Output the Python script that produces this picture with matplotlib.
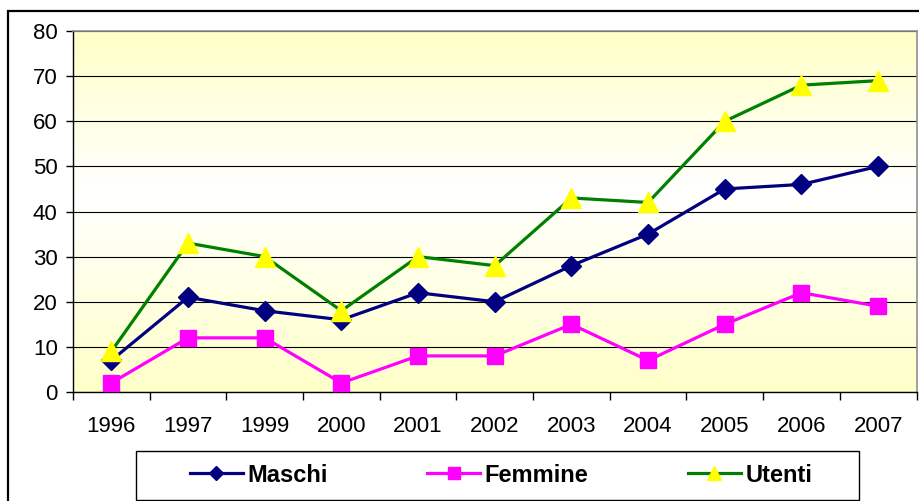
import matplotlib
matplotlib.use("Agg")
import matplotlib.pyplot as plt
import numpy as np
from matplotlib.colors import LinearSegmentedColormap
from matplotlib.patches import Rectangle

plt.rcParams["font.family"] = ["Liberation Sans", "DejaVu Sans"]

anni = ["1996", "1997", "1999", "2000", "2001", "2002", "2003", "2004", "2005", "2006", "2007"]
maschi = [7, 21, 18, 16, 22, 20, 28, 35, 45, 46, 50]
femmine = [2, 12, 12, 2, 8, 8, 15, 7, 15, 22, 19]
utenti = [9, 33, 30, 18, 30, 28, 43, 42, 60, 68, 69]

W, H = 919, 501
fig = plt.figure(figsize=(W / 100, H / 100), dpi=100)

# area del grafico (coordinate in pixel convertite in frazioni)
x0, x1, ytop, ybot = 73, 916.5, 31, 392
ax = fig.add_axes([x0 / W, 1 - ybot / H, (x1 - x0) / W, (ybot - ytop) / H])

# sfondo sfumato giallo-bianco-giallo
sfondo = LinearSegmentedColormap.from_list(
    "sfondo", [(0, "#FFFFC8"), (0.55, "#FFFFFF"), (1, "#FFFFC8")])
grad = np.linspace(0, 1, 256).reshape(-1, 1)
ax.imshow(grad, extent=[0, 1, 0, 1], transform=ax.transAxes, origin="lower",
          aspect="auto", cmap=sfondo, zorder=0)

x = np.arange(len(anni))
ax.plot(x, maschi, color="#000080", lw=2.3, marker="D", ms=10,
        mfc="#000080", mec="#000080", label="Maschi", zorder=3)
ax.plot(x, femmine, color="#FF00FF", lw=2.3, marker="s", ms=12,
        mfc="#FF00FF", mec="#FF00FF", label="Femmine", zorder=3)
ax.plot(x, utenti, color="#008000", lw=2.3, marker="^", ms=14,
        mfc="#FFFF00", mec="#FFFF00", label="Utenti", zorder=4)

ax.set_xlim(-0.5, len(anni) - 0.5)
ax.set_ylim(0, 80)
ax.set_yticks(range(0, 81, 10))
ax.yaxis.grid(True, color="black", lw=0.8)
ax.set_axisbelow(True)

# tacche ai bordi delle categorie, etichette al centro
ax.set_xticks(np.arange(len(anni) + 1) - 0.5)
ax.set_xticklabels([])
ax.set_xticks(x, minor=True)
ax.set_xticklabels(anni, minor=True)
ax.tick_params(axis="x", which="major", length=6, width=1, color="black")
ax.tick_params(axis="x", which="minor", length=0, pad=17, labelsize=16)
ax.tick_params(axis="y", length=5, width=1, pad=6, labelsize=16)

for lato in ("top", "right"):
    ax.spines[lato].set_color("#909090")
    ax.spines[lato].set_linewidth(1.2)
for lato in ("left", "bottom"):
    ax.spines[lato].set_color("black")
    ax.spines[lato].set_linewidth(1)

# cornice esterna (solo lati sinistro e superiore visibili)
fig.patches.append(Rectangle((8 / W, -0.5), 1.5, 1.5 - 11 / H, transform=fig.transFigure,
                             fill=False, ec="black", lw=1.6, zorder=10))

# legenda in basso: riquadro disegnato a parte, voci centrate
lx0, lx1, ly0, ly1 = 136, 859, 451, 500
fig.patches.append(Rectangle((lx0 / W, 1 - ly1 / H), (lx1 - lx0) / W, (ly1 - ly0) / H,
                             transform=fig.transFigure, fill=True, fc="white",
                             ec="black", lw=1, zorder=5))
leg = fig.legend(loc="center", ncol=3, frameon=False,
                 bbox_to_anchor=(501 / W, 1 - 475 / H),
                 prop={"weight": "bold", "size": 17}, handlelength=2.25,
                 handletextpad=0.2, columnspacing=4.2, markerscale=0.75)
leg.set_zorder(6)

fig.savefig("out.png", dpi=100)
